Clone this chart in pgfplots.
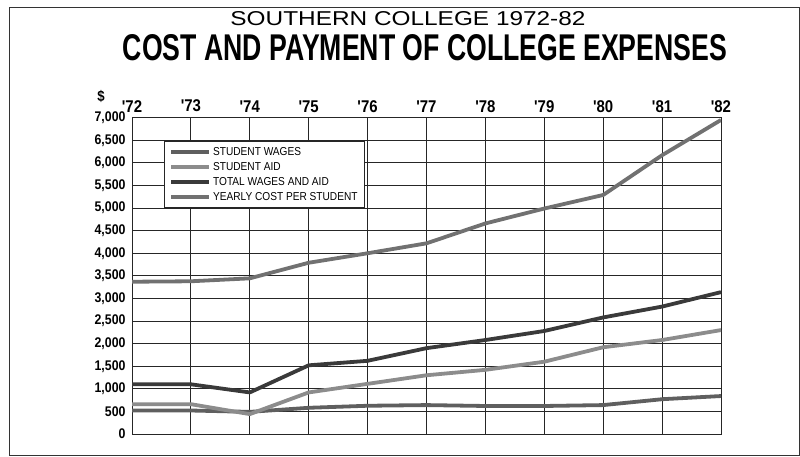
\documentclass[border=0pt]{standalone}
\usepackage{pgfplots}
\pgfplotsset{compat=1.18}
\usepackage{graphicx}
\usepackage{fontspec}
\setmainfont{Liberation Sans}
\newfontfamily\cond[FakeStretch=0.88]{Liberation Sans}
\definecolor{cwages}{HTML}{5F5F5F}
\definecolor{caid}{HTML}{8C8C8C}
\definecolor{ctotal}{HTML}{3A3A3A}
\definecolor{ccost}{HTML}{717171}
\begin{document}
\begin{tikzpicture}
\useasboundingbox (0pt,0pt) rectangle (800pt,456pt);
\draw[line width=1pt, black!80] (9pt,1pt) rectangle (799pt,448pt);
\node[inner sep=0pt] at (408pt,437pt) {\resizebox{355pt}{14pt}{SOUTHERN COLLEGE 1972-82}};
\node[inner sep=0pt] at (425pt,408pt) {\resizebox{604pt}{26pt}{\bfseries\cond COST AND PAYMENT OF COLLEGE EXPENSES}};
\node[inner sep=0pt, anchor=base] at (101pt,354pt) {\cond\bfseries\fontsize{15}{16}\selectfont \$};
\begin{axis}[
  at={(132pt,22pt)}, anchor=south west,
  scale only axis, width=589pt, height=316.3pt,
  xmin=1972, xmax=1982, ymin=0, ymax=7000,
  xtick={1972,...,1982},
  xticklabels={'72,'73,'74,'75,'76,'77,'78,'79,'80,'81,'82},
  ytick={0,500,...,7000},
  xticklabel pos=upper,
  grid=major,
  major grid style={black!85, line width=0.8pt},
  axis line style={black!85, line width=1pt},
  tick style={draw=none},
  /pgf/number format/assume math mode=true,
  /pgf/number format/1000 sep={,},
  scaled y ticks=false,
  yticklabel style={font=\cond\bfseries\fontsize{14}{15}\selectfont, xshift=-3pt},
  xticklabel style={font=\cond\bfseries\fontsize{17}{18}\selectfont, yshift=2pt},
  legend style={at={(0.0543,0.927)}, anchor=north west, draw=black!85, line width=0.8pt, fill=white,
    font=\cond\fontsize{11.5}{12}\selectfont, row sep=1.5pt, inner xsep=5pt, inner ysep=4pt},
  legend cell align=left,
  legend image code/.code={\draw[#1] (0pt,0pt) -- (38pt,0pt);},
  every axis plot/.append style={line width=3.8pt, line join=round},
]
\addplot[cwages] coordinates {(1972,520) (1973,520) (1974,490) (1975,580) (1976,625) (1977,640) (1978,620) (1979,620) (1980,640) (1981,770) (1982,840)};
\addlegendentry{STUDENT WAGES}
\addplot[caid] coordinates {(1972,660) (1973,660) (1974,440) (1975,920) (1976,1110) (1977,1300) (1978,1420) (1979,1600) (1980,1920) (1981,2080) (1982,2300)};
\addlegendentry{STUDENT AID}
\addplot[ctotal] coordinates {(1972,1100) (1973,1100) (1974,920) (1975,1520) (1976,1620) (1977,1900) (1978,2080) (1979,2280) (1980,2580) (1981,2820) (1982,3140)};
\addlegendentry{TOTAL WAGES AND AID}
\addplot[ccost] coordinates {(1972,3370) (1973,3380) (1974,3445) (1975,3790) (1976,4000) (1977,4220) (1978,4660) (1979,4990) (1980,5290) (1981,6170) (1982,6950)};
\addlegendentry{YEARLY COST PER STUDENT}
\end{axis}
\end{tikzpicture}
\end{document}
